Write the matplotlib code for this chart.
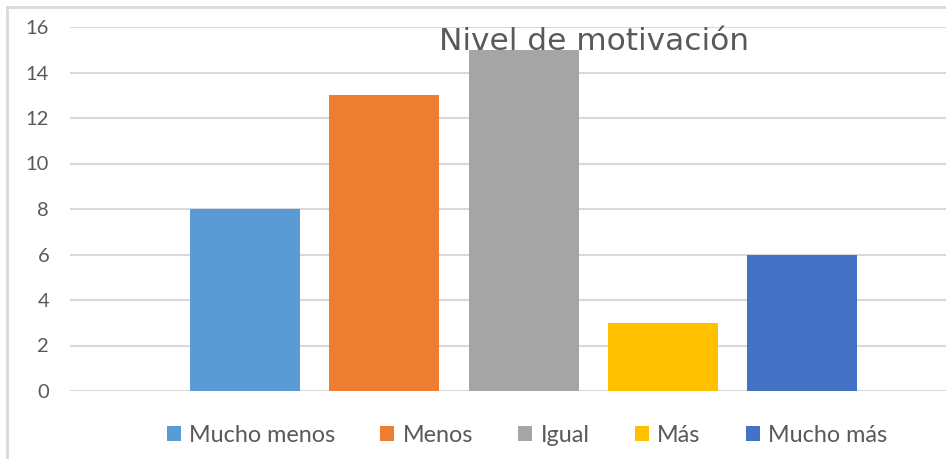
import matplotlib.pyplot as plt
from matplotlib.lines import Line2D

# data
categories = ['Mucho menos', 'Menos', 'Igual', 'Más', 'Mucho más']
values = [8, 13, 15, 3, 6]
colors = ['#5B9BD5', '#ED7D31', '#A5A5A5', '#FFC000', '#4472C4']
yticks = [0, 2, 4, 6, 8, 10, 12, 14, 16]

W, H = 946, 459
fig = plt.figure(figsize=(W / 100, H / 100), dpi=100)
ax = fig.add_axes([70 / W, 1 - 391 / H, 1 - 70 / W, (391 - 27) / H])

for i, (cat, val, col) in enumerate(zip(categories, values, colors)):
    ax.bar(i, val, width=0.79, color=col, label=cat, zorder=3)

ax.set_xlim(-1.257, 5.034)
ax.set_ylim(0, 16)
ax.set_yticks(yticks)
ax.set_xticks([])
ax.yaxis.grid(True, color='#D9D9D9', linewidth=1.5, zorder=0)
ax.tick_params(axis='y', length=0, pad=15, labelsize=14.5, labelcolor='#595959')
for lbl in ax.get_yticklabels():
    lbl.set_family('Lato')
for s in ax.spines.values():
    s.set_visible(False)

# title sits inside the plot area, over the bars
fig.text(594 / W, 1 - 50 / H, 'Nivel de motivación', ha='center', va='baseline',
         fontsize=22.5, color='#595959', family='DejaVu Sans', zorder=10)

leg = fig.legend(loc='center', bbox_to_anchor=(527 / W, 1 - 435 / H), ncol=5,
                 frameon=False, handlelength=0.6, handleheight=0.6,
                 handletextpad=0.35, columnspacing=1.95,
                 prop={'family': 'Lato', 'size': 16.8})
for t in leg.get_texts():
    t.set_color('#595959')

# chart border (cropped on right and bottom)
fig.add_artist(Line2D([7 / W, 7 / W], [0, 1 - 7 / H], color='#D9D9D9', lw=2,
                      transform=fig.transFigure))
fig.add_artist(Line2D([7 / W, 1], [1 - 7 / H, 1 - 7 / H], color='#D9D9D9', lw=2,
                      transform=fig.transFigure))

fig.savefig('out.png', dpi=100)
